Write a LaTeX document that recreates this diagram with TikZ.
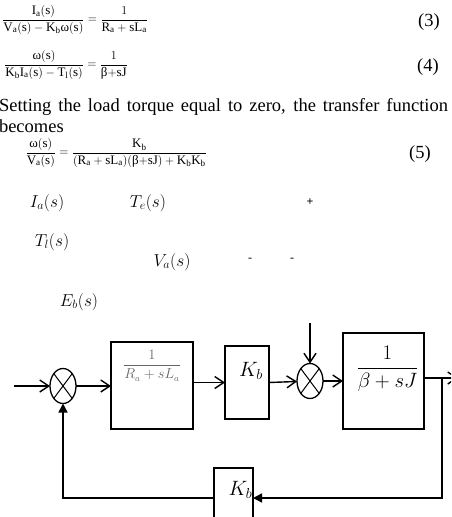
\documentclass[tikz,border=0pt]{standalone}
\usepackage{amsmath}
\usepackage{fontspec}
\setmainfont{Liberation Serif}
\setmathrm{Liberation Serif}
\usepackage{tikz}
\usetikzlibrary{positioning, shapes.geometric, arrows.meta, calc}
\definecolor{darkgray}{gray}{0.3}
\definecolor{boxtext}{gray}{0.4}
\newcommand{\om}{\text{ω}}
\newcommand{\be}{\text{β}}

\begin{document}
\begin{tikzpicture}[x=1pt, y=-1pt,
    every node/.style={inner sep=0pt, outer sep=0pt},
    eqn/.style  ={font=\fontsize{13}{15}\selectfont},
    txt/.style  ={font=\fontsize{18.5}{21}\selectfont},
    sig/.style  ={font=\fontsize{18}{20}\selectfont},
    sgn/.style  ={font=\fontsize{12}{14}\selectfont},
    blk/.style  ={draw, line width=1.1pt, rectangle},
    kb/.style   ={font=\fontsize{20}{22}\selectfont},
    sumj/.style ={draw, line width=1.3pt, ellipse, minimum width=26pt, minimum height=35pt},
    arrow/.style={-{Straight Barb[length=9pt,width=12pt]}, line width=1.4pt},
    fb/.style   ={-{Triangle[length=9pt,width=9pt]}, line width=1.4pt}
]
\path[use as bounding box, clip] (0,0) rectangle (451,517);

% equations above the diagram
\node[eqn, anchor=east] (eq3) at (148,20)
  {$\dfrac{\mathrm{I_a(s)}}{\mathrm{V_a(s)-K_b}\om\mathrm{(s)}} = \dfrac{1}{\mathrm{R_a+sL_a}}$};
\node[txt] (n3) at (429,22) {(3)};
\node[eqn, anchor=east] (eq4) at (128,65)
  {$\dfrac{\om\mathrm{(s)}}{\mathrm{K_bI_a(s)-T_l(s)}} = \dfrac{1}{\be\mathrm{+sJ}}$};
\node[txt] (n4) at (428,67) {(4)};
\node[txt, anchor=north west, text width=449pt, align=justify] (para) at (-1,98)
  {Setting the load torque equal to zero, the transfer function \mbox{becomes}};
\node[eqn, anchor=east] (eq5) at (207,153)
  {$\dfrac{\om\mathrm{(s)}}{\mathrm{V_a(s)}} = \dfrac{\mathrm{K_b}}{\mathrm{(R_a+sL_a)(}\be\mathrm{+sJ)+K_bK_b}}$};
\node[txt] (n5) at (420,154) {(5)};

% signal names
\node[sig] (ia) at (47,203)  {$I_a(s)$};
\node[sig] (te) at (148,203) {$T_e(s)$};
\node[sgn] (pl) at (310,202) {\textbf{+}};
\node[sig] (tl) at (52,242)  {$T_l(s)$};
\node[sig] (va) at (172,262) {$V_a(s)$};
\node[sgn] (m1) at (250,260) {-};
\node[sgn] (m2) at (292,260) {-};
\node[sig] (eb) at (79,302)  {$E_b(s)$};

% block diagram
\node[sumj] (s1) at (63,386) {};
\node[blk, minimum width=82pt, minimum height=87pt] (g1) at (152,385.5) {};
\node[font=\fontsize{13.5}{15}\selectfont, text=boxtext, below=8pt of g1.north] (g1t) {$\dfrac{1}{R_a+sL_a}$};
\node[blk, minimum width=44pt, minimum height=73pt] (g2) at (247,382.5) {};
\node[kb, below=16pt of g2.north, xshift=4pt] (g2t) {$K_b$};
\node[sumj] (s2) at (310,381) {};
\node[blk, minimum width=81pt, minimum height=96pt] (g3) at (383.5,381) {};
\node[kb, below=13pt of g3.north, xshift=4pt] (g3t) {$\dfrac{1}{\beta+sJ}$};
\node[blk, minimum width=39pt, minimum height=60pt] (g4) at (233.5,498) {};
\node[kb] (g4t) at ($(g4.center)+(7,-8)$) {$K_b$};

\coordinate (in)  at (14,386);
\coordinate (tin) at (310,323);
\coordinate (br)  at (442,378);
\coordinate (out) at (458,378);

\foreach \s in {s1,s2}
  \draw[line width=1pt] (\s.north east) -- (\s.south west) (\s.north west) -- (\s.south east);

\draw[arrow] (in) -- (s1.west);
\draw[arrow] (s1.east) -- (g1.west |- s1.east);
\draw[arrow] (g1.east |- g2.west) -- (g2.west);
\draw[arrow] (g2.east) -- (s2);
\draw[arrow] (tin) -- (s2.north);
\draw[arrow] (s2.east) -- (g3.west |- s2.east);
\draw[arrow] (g3.east |- br) -- (out);
\draw[fb] (br) |- (g4.east);
\draw[fb] (g4.west) -| (s1.south);

\end{tikzpicture}
\end{document}
